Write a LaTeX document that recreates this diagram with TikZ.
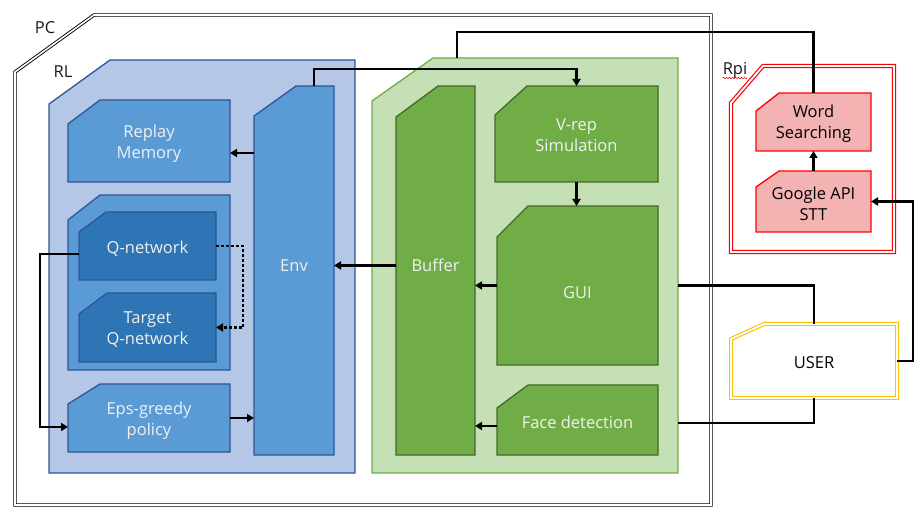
\documentclass[tikz,border=0pt]{standalone}
\usepackage{fontspec}
\setmainfont{Open Sans}
\usetikzlibrary{arrows.meta,backgrounds,decorations.pathmorphing}

\definecolor{rlfill}{HTML}{B4C7E7}
\definecolor{blueline}{HTML}{2F5597}
\definecolor{bluebox}{HTML}{5B9BD5}
\definecolor{qbox}{HTML}{2E75B6}
\definecolor{simfill}{HTML}{C5E0B4}
\definecolor{simline}{HTML}{70AD47}
\definecolor{greenbox}{HTML}{70AD47}
\definecolor{greenline}{HTML}{43682B}
\definecolor{pinkbox}{HTML}{F4B3B3}
\definecolor{userline}{HTML}{FFC000}

% box with the top left corner cut off: [style]{node}{cut x}{cut y}
\newcommand{\cutbox}[4][]{%
  \path[#1] (#2.south west) -- ([yshift=-#4pt]#2.north west)
    -- ([xshift=#3pt]#2.north west) -- (#2.north east)
    -- (#2.south east) -- cycle;}

\begin{document}
\begin{tikzpicture}[x=1pt, y=-1pt,
  font=\fontsize{16.5}{21}\selectfont,
  area/.style={rectangle, outer sep=0pt, inner sep=0pt},
  wtext/.style={align=center, inner sep=0pt, text=white!94!black},
  btext/.style={align=center, inner sep=0pt, text=black},
  tag/.style={anchor=base, inner sep=0pt, text=black!90},
  pcshape/.style={draw=black, double=white, double distance=1.6pt, line width=0.9pt},
  rlshape/.style={fill=rlfill, draw=blueline, line width=1.3pt},
  blueshape/.style={fill=bluebox, draw=blueline, line width=1.3pt},
  qshape/.style={fill=qbox, draw=blueline, line width=1.3pt},
  simshape/.style={fill=simfill, draw=simline, line width=1.3pt},
  greenshape/.style={fill=greenbox, draw=greenline, line width=1.3pt},
  rpishape/.style={draw=red, double=white, double distance=1.8pt, line width=1.2pt},
  pinkshape/.style={fill=pinkbox, draw=red, line width=1.3pt},
  usershape/.style={fill=white, draw=userline, double=white, double distance=1.8pt, line width=1.1pt},
  arr/.style={-{Triangle[length=7pt,width=8pt]}, line width=2.5pt},
  conn/.style={line width=2.5pt},
  dotarr/.style={arr, dash pattern=on 3pt off 2pt}
]
\useasboundingbox (0,0) rectangle (921,518);

% outer areas
\node[area, minimum width=696pt, minimum height=490pt] (pcbox) at (363,260) {};
\node[area, minimum width=306pt, minimum height=413pt] (rlbox) at (202,266.5) {};
\node[area, minimum width=306pt, minimum height=415pt] (simbox) at (525,265.5) {};
\node[area, minimum width=163pt, minimum height=186pt] (rpibox) at (812.5,159) {};
\node[tag] (pclabel) at (45,34) {PC};
\node[tag] (rllabel) at (63,78) {RL};
\node[tag] (rpilabel) at (735,75) {Rpi};

% RL part
\node[area, minimum width=162pt, minimum height=82pt] (replay) at (149,141) {};
\node[area, minimum width=80pt, minimum height=369pt] (env) at (294,270.5) {};
\node[area, minimum width=162pt, minimum height=175pt] (qgroup) at (149,282.5) {};
\node[area, minimum width=137pt, minimum height=68pt] (qnet) at (147.5,246) {};
\node[area, minimum width=137pt, minimum height=69pt] (target) at (147.5,327.5) {};
\node[area, minimum width=162pt, minimum height=68pt] (eps) at (149,418) {};

% simulation part
\node[area, minimum width=79pt, minimum height=369pt] (buffer) at (435.5,270.5) {};
\node[area, minimum width=163pt, minimum height=96pt] (vrep) at (576.5,134) {};
\node[area, minimum width=161pt, minimum height=159pt] (gui) at (577.5,285.5) {};
\node[area, minimum width=161pt, minimum height=70pt] (face) at (577.5,420) {};

% Rpi part
\node[area, minimum width=115pt, minimum height=58pt] (word) at (813.5,122) {};
\node[area, minimum width=115pt, minimum height=61pt] (google) at (813.5,201.5) {};
\node[area, minimum width=166pt, minimum height=74pt] (user) at (814,361) {};

% texts
\node[wtext] at ([yshift=-3pt]replay) {Replay\\Memory};
\node[wtext] at ([yshift=5pt]env) {Env};
\node[wtext] at ([yshift=-3pt]qnet) {Q-network};
\node[wtext] at ([yshift=-2pt]target) {Target\\Q-network};
\node[wtext] at ([yshift=-3pt]eps) {Eps-greedy\\policy};
\node[wtext] at ([yshift=5pt]buffer) {Buffer};
\node[wtext] at ([yshift=-1pt]vrep) {V-rep\\Simulation};
\node[wtext] at ([yshift=-7pt]gui) {GUI};
\node[wtext] at ([yshift=-2pt]face) {Face detection};
\node[btext] at ([yshift=-2pt]word) {Word\\Searching};
\node[btext] at ([yshift=-2pt]google) {Google API\\STT};
\node[btext] at ([yshift=-2pt]user) {USER};

\begin{pgfonlayer}{background}
  \cutbox[pcshape]{pcbox}{79}{57}
  \cutbox[rlshape]{rlbox}{61}{44}
  \cutbox[blueshape]{replay}{32}{24}
  \cutbox[blueshape]{env}{42}{30}
  \cutbox[blueshape]{qgroup}{32}{25}
  \cutbox[qshape]{qnet}{27}{20}
  \cutbox[qshape]{target}{28}{21}
  \cutbox[blueshape]{eps}{32}{20}
  \cutbox[simshape]{simbox}{61}{43}
  \cutbox[greenshape]{buffer}{42}{31}
  \cutbox[greenshape]{vrep}{32}{29}
  \cutbox[greenshape]{gui}{31}{31}
  \cutbox[greenshape]{face}{31}{23}
  \cutbox[rpishape]{rpibox}{32}{37}
  \cutbox[pinkshape]{word}{23}{18}
  \cutbox[pinkshape]{google}{23}{16}
  \cutbox[usershape]{user}{33}{15}
\end{pgfonlayer}

\draw[red, line width=0.6pt, decorate,
  decoration={snake, amplitude=0.8pt, segment length=3pt}]
  ([yshift=-3pt]rpilabel.base west) -- ([yshift=-3pt]rpilabel.base east);

% connectors
\draw[arr] ([yshift=-12pt]replay.east -| env.west) -- ([yshift=-12pt]replay.east);
\draw[arr] (eps.east) -- (eps.east -| env.west);
\draw[arr] ([yshift=-8pt]qnet.west) -- ++(-39,0) |- ([yshift=-9pt]eps.west);
\draw[dotarr] (qnet.east) -- ++(27,0) |- (target.east);
\draw[arr] ([yshift=5pt]buffer.west) -- ([yshift=5pt]env.east);
\draw[arr] ([xshift=20pt]env.north) -- ++(0,-17) -| (vrep.north);
\draw[arr] (vrep.south) -- (vrep.south |- gui.north);
\draw[arr] (gui.west) -- (gui.west -| buffer.east);
\draw[arr] ([yshift=-6pt]face.west) -- ([yshift=-6pt]face.west -| buffer.east);
\draw[arr] (google.north) -- (word.south);
\draw[conn] (word.north) -- ++(0,-61) -| ([xshift=-68pt]simbox.north);
\draw[conn] (simbox.east |- gui.west) -| (user.north);
\draw[conn] ([yshift=-3pt]simbox.east |- face.east) -| (user.south);
\draw[arr] (user.east) -- ++(16,0) |- (google.east);
\end{tikzpicture}
\end{document}
